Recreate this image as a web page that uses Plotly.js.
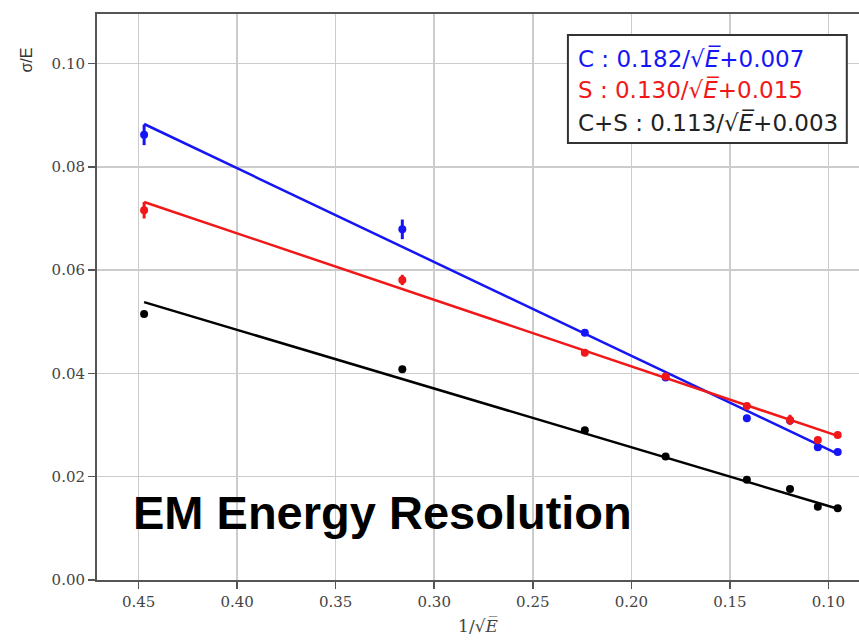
<!DOCTYPE html>
<html>
<head>
<meta charset="utf-8">
<script src="https://cdn.plot.ly/plotly-3.0.1.min.js"></script>
<style>html,body{margin:0;padding:0;background:#fff;}#chart{width:859px;height:644px;}</style>
</head>
<body>
<div id="chart"></div>
<script>
// 1/sqrt(E) positions of the measurements
const xPoints = [0.4472, 0.3162, 0.2236, 0.1826, 0.1414, 0.1195, 0.1054, 0.0953];
// sigma/E measurements
const yC  = [0.0862, 0.0679, 0.0479, 0.0392, 0.0313, 0.0309, 0.0257, 0.0248];
const yS  = [0.0716, 0.0581, 0.0440, 0.0394, 0.0337, 0.0310, 0.0271, 0.0281];
const yCS = [0.0515, 0.0408, 0.0290, 0.0239, 0.0194, 0.0176, 0.0142, 0.0139];
// errors
const eC  = [0.0020, 0.0019, 0.0005, 0.0005, 0.0004, 0.0004, 0.0004, 0.0004];
const eS  = [0.0016, 0.0010, 0.0005, 0.0005, 0.0004, 0.0010, 0.0004, 0.0004];
const eCS = [0.0006, 0.0004, 0.0003, 0.0003, 0.0003, 0.0003, 0.0003, 0.0003];
// fit line end points
const xFit = [0.4472, 0.0953];
const fitC  = [0.0883, 0.0244];
const fitS  = [0.0732, 0.0279];
const fitCS = [0.0538, 0.0138];
// texts
const legendTexts = [
  "C : 0.182/√<i>E̅</i>+0.007",
  "S : 0.130/√<i>E̅</i>+0.015",
  "C+S : 0.113/√<i>E̅</i>+0.003"
];
const xTicks = [0.45, 0.40, 0.35, 0.30, 0.25, 0.20, 0.15, 0.10];
const yTicks = [0.00, 0.02, 0.04, 0.06, 0.08, 0.10];

const BLUE = "#1515f5", RED = "#f01818", BLACK = "#000000";

function fitTrace(y, c){ return {x:xFit, y:y, mode:"lines", line:{color:c, width:2.5}, hoverinfo:"skip"}; }
function ptTrace(y, e, c){ return {x:xPoints, y:y, mode:"markers", marker:{color:c, size:8},
  error_y:{type:"data", array:e, visible:true, color:c, thickness:3, width:0}}; }

const data = [
  fitTrace(fitC, BLUE), ptTrace(yC, eC, BLUE),
  fitTrace(fitS, RED), ptTrace(yS, eS, RED),
  fitTrace(fitCS, BLACK), ptTrace(yCS, eCS, BLACK)
];

const tickFont = {family:"DejaVu Serif, Liberation Serif, serif", size:15, color:"#444"};

const layout = {
  width:859, height:644,
  margin:{l:97, r:0, t:14, b:64},
  paper_bgcolor:"#fff", plot_bgcolor:"#fff",
  showlegend:false,
  xaxis:{
    range:[0.4711, 0.0845], tickvals:xTicks, ticktext:xTicks.map(v=>v.toFixed(2)),
    showgrid:true, gridcolor:"#cccccc", gridwidth:1.5,
    showline:true, linecolor:"#555", linewidth:2, mirror:true,
    ticks:"outside", ticklen:7, tickwidth:1.5, tickcolor:"#555",
    tickfont:tickFont, zeroline:false,
    title:{text:"1/√<i>E̅</i>", font:{family:"DejaVu Serif, serif", size:17, color:"#444"}, standoff:10}
  },
  yaxis:{
    range:[0, 0.1096], tickvals:yTicks, ticktext:yTicks.map(v=>v.toFixed(2)),
    showgrid:true, gridcolor:"#cccccc", gridwidth:1.5,
    showline:true, linecolor:"#555", linewidth:2, mirror:false,
    ticks:"outside", ticklen:7, tickwidth:1.5, tickcolor:"#555",
    tickfont:tickFont, zeroline:false
  },
  shapes:[
    {type:"rect", xref:"paper", yref:"paper", x0:0.618, x1:0.984, y0:0.772, y1:0.963,
     fillcolor:"#fff", line:{color:"#333", width:2}, layer:"above"}
  ],
  annotations:[
    {xref:"paper", yref:"paper", x:0.6286, y:0.922, xanchor:"left", yanchor:"middle", showarrow:false,
     text:legendTexts[0], font:{family:"DejaVu Sans, sans-serif", size:23, color:BLUE}},
    {xref:"paper", yref:"paper", x:0.6286, y:0.866, xanchor:"left", yanchor:"middle", showarrow:false,
     text:legendTexts[1], font:{family:"DejaVu Sans, sans-serif", size:23, color:RED}},
    {xref:"paper", yref:"paper", x:0.6286, y:0.809, xanchor:"left", yanchor:"middle", showarrow:false,
     text:legendTexts[2], font:{family:"DejaVu Sans, sans-serif", size:23, color:"#222"}},
    {xref:"paper", yref:"paper", x:0.0445, y:0.120, xanchor:"left", yanchor:"middle", showarrow:false,
     text:"<b>EM Energy Resolution</b>", font:{family:"Liberation Sans, Arial, sans-serif", size:47, color:"#000"}},
    {xref:"paper", yref:"paper", x:-0.093, y:0.918, xanchor:"center", yanchor:"middle", showarrow:false,
     textangle:-90, text:"σ/E", font:{family:"Liberation Sans, Arial, sans-serif", size:16, color:"#333"}}
  ]
};

Plotly.newPlot("chart", data, layout, {staticPlot:true, displayModeBar:false});
</script>
</body>
</html>
